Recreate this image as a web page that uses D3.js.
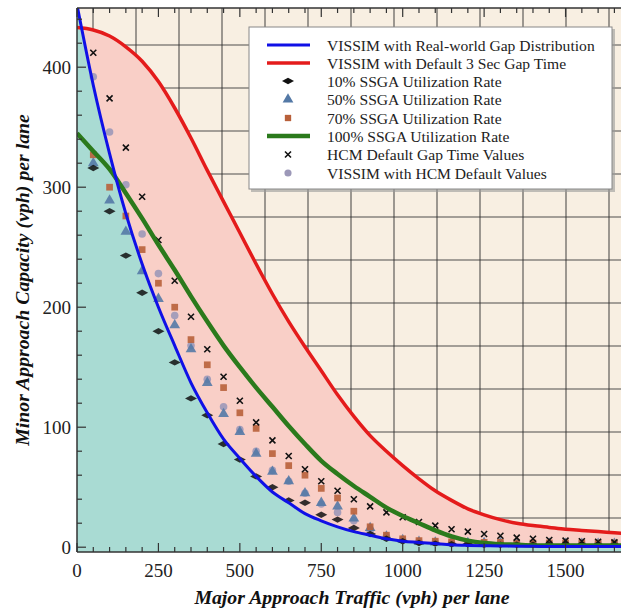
<!DOCTYPE html>
<html>
<head>
<meta charset="utf-8">
<script src="https://cdn.jsdelivr.net/npm/d3@7"></script>
<style>
  body { margin: 0; background: #ffffff; }
  svg { display: block; }
</style>
</head>
<body>
<svg id="chart" width="621" height="611"></svg>
<script>
// Capacity chart: minor approach capacity against major approach traffic.
// curves are sampled every 50 vph, markers are the simulation points

// x values of the curves (vph)
const curveX = [0, 50, 100, 150, 200, 250, 300, 350, 400, 450, 500, 550, 600, 650, 700, 750, 800, 850,
    900, 950, 1000, 1050, 1100, 1150, 1200, 1250, 1300, 1350, 1400, 1450, 1500, 1550, 1600, 1650, 1700];

// VISSIM with Real-world Gap Distribution
const realWorld = [452, 385, 328, 278, 236, 200, 168, 137, 112, 90, 74, 59, 46, 37, 28, 22, 17, 13,
    10, 7, 5, 4, 3, 2, 1.5, 1.2, 1, 0.8, 0.7, 0.6, 0.5, 0.5, 0.5, 0.5, 0.5];

// VISSIM with Default 3 Sec Gap Time
const default3s = [433, 431, 426, 417, 405, 388, 366, 341, 314, 288, 262, 236, 211, 188, 167, 147, 127, 109,
    93, 80, 68, 57, 47, 39, 32, 27, 23, 20, 18, 16.5, 15, 14, 13, 12, 11];

// 100% SSGA Utilization Rate
const ssga100 = [345, 330, 315, 295, 274, 252, 231, 209, 188, 168, 150, 133, 117, 101, 86, 72, 61, 51,
    42, 33, 26, 20, 14, 9, 5.5, 3.5, 2.5, 2, 1.5, 1.5, 1.5, 1.5, 1.5, 1.5, 1.5];

// x values of the markers (vph)
const markerX = [50, 100, 150, 200, 250, 300, 350, 400, 450, 500, 550, 600, 650, 700, 750, 800, 850,
    900, 950, 1000, 1050, 1100, 1150, 1200, 1250, 1300, 1350, 1400, 1450, 1500, 1550, 1600, 1650];

const ssga10 = [316, 280, 243, 212, 180, 154, 124, 110, 86, 73, 59, 50, 39, 37, 27, 23, 16,
    11, 7, 5, 3.5, 3, 2.5, 2.5, 2, 2, 2, 2, 2, 2, 2, 2, 2];
const ssga50 = [320, 289, 263, 230, 207, 185, 165, 137, 111, 96, 78, 63, 55, 45, 37, 34, 24,
    16, 9, 6, 4.5, 4, 4, 3.5, 3.5, 3.5, 3, 3, 3, 3, 3, 3, 3];
const ssga70 = [327, 300, 276, 248, 220, 200, 173, 152, 133, 112, 99, 78, 68, 60, 49, 41, 30,
    17, 10, 7, 5.5, 5, 4.5, 4, 4, 4, 3.5, 3.5, 3.5, 3.5, 3.5, 3.5, 3.5];
const hcmGap = [412, 374, 333, 292, 256, 222, 192, 165, 142, 122, 104, 89, 76, 65, 55, 47, 40,
    34, 29, 25, 21, 18, 15, 13, 11, 9.5, 8, 7, 6, 5.5, 5, 4.5, 4];
const vissimHcm = [392, 346, 302, 261, 228, 193, 168, 140, 117, 98, 80, 64, 55, 45, 36, 29, 22,
    14, 9, 6, 4.5, 4, 3.5, 3.5, 3, 3, 3, 3, 3, 3, 3, 3, 3];

// tick labels
const xTickLabels = [0, 250, 500, 750, 1000, 1250, 1500];
const yTickLabels = [0, 100, 200, 300, 400];

const legendLabels = [
    "VISSIM with Real-world Gap Distribution",
    "VISSIM with Default 3 Sec Gap Time",
    "10% SSGA Utilization Rate",
    "50% SSGA Utilization Rate",
    "70% SSGA Utilization Rate",
    "100% SSGA Utilization Rate",
    "HCM Default Gap Time Values",
    "VISSIM with HCM Default Values"
];

const FONT = "'Liberation Serif', 'Times New Roman', serif";

let svg = d3.select("#chart");

// plot box
let pLeft = 77, pRight = 621, pTop = 8, pBottom = 552;

let x = d3.scaleLinear().domain([0, 1700]).range([pLeft, pLeft + 1700 * 0.3257]);
let y = d3.scaleLinear().domain([-4, 450]).range([pBottom, 7.2]);

svg.append("defs").append("clipPath").attr("id", "plotClip")
    .append("rect").attr("x", pLeft).attr("y", pTop)
    .attr("width", pRight - pLeft).attr("height", pBottom - pTop);

// cream paper background with its own grid (not tied to the axis ticks)
svg.append("rect").attr("x", pLeft).attr("y", pTop)
    .attr("width", pRight - pLeft).attr("height", pBottom - pTop)
    .attr("fill", "#f8efe2");

let grid = svg.append("g").attr("clip-path", "url(#plotClip)");
for (let gx = 93; gx < pRight; gx += 43) {
    grid.append("line").attr("x1", gx).attr("x2", gx).attr("y1", pTop).attr("y2", pBottom)
        .attr("stroke", "#333").attr("stroke-width", 1.1).attr("opacity", 0.85);
}
for (let gy = 45; gy < pBottom; gy += 43) {
    grid.append("line").attr("x1", pLeft).attr("x2", pRight).attr("y1", gy).attr("y2", gy)
        .attr("stroke", "#333").attr("stroke-width", 1.1).attr("opacity", 0.85);
}

let plot = svg.append("g").attr("clip-path", "url(#plotClip)");

function curveData(vals) {
    return curveX.map((d, i) => [d, vals[i]]);
}

let area = d3.area()
    .x(d => x(d[0]))
    .y0(y(-4))
    .y1(d => y(d[1]))
    .curve(d3.curveMonotoneX);

let line = d3.line()
    .x(d => x(d[0]))
    .y(d => y(d[1]))
    .curve(d3.curveMonotoneX);

// pink band under the red curve, teal under the blue one drawn on top
plot.append("path").attr("d", area(curveData(default3s))).attr("fill", "#f9cfc7");
plot.append("path").attr("d", area(curveData(realWorld))).attr("fill", "#a9dbd3");

// markers
function markerData(vals) {
    return markerX.map((d, i) => [d, vals[i]]);
}

function drawSymbol(g, data, type, size, fill, opacity) {
    g.selectAll(null).data(data).enter().append("path")
        .attr("transform", d => "translate(" + x(d[0]) + "," + y(d[1]) + ")")
        .attr("d", d3.symbol().type(type).size(size))
        .attr("fill", fill)
        .attr("opacity", opacity);
}

// flat diamond used for the 10% series
const flatDiamond = "M-6,0 L0,-3.2 L6,0 L0,3.2 Z";

function drawDiamonds(g, data) {
    g.selectAll(null).data(data).enter().append("path")
        .attr("transform", d => "translate(" + x(d[0]) + "," + y(d[1]) + ")")
        .attr("d", flatDiamond)
        .attr("fill", "#111")
        .attr("opacity", 0.85);
}

function drawCrosses(g, data) {
    g.selectAll(null).data(data).enter().append("path")
        .attr("transform", d => "translate(" + x(d[0]) + "," + y(d[1]) + ")")
        .attr("d", "M-3,-3 L3,3 M-3,3 L3,-3")
        .attr("stroke", "#111")
        .attr("stroke-width", 1.6)
        .attr("fill", "none");
}

let marks = plot.append("g");
drawSymbol(marks, markerData(vissimHcm), d3.symbolCircle, 45, "#9c98b8", 0.9);
drawSymbol(marks, markerData(ssga50), d3.symbolTriangle, 50, "#5479a6", 0.9);
drawSymbol(marks, markerData(ssga70), d3.symbolSquare, 45, "#b8603a", 0.9);
drawDiamonds(marks, markerData(ssga10));
drawCrosses(marks, markerData(hcmGap));

// curves
plot.append("path").attr("d", line(curveData(ssga100)))
    .attr("fill", "none").attr("stroke", "#2b7a1c").attr("stroke-width", 4.5);
plot.append("path").attr("d", line(curveData(default3s)))
    .attr("fill", "none").attr("stroke", "#e41b1b").attr("stroke-width", 3.5);
plot.append("path").attr("d", line(curveData(realWorld)))
    .attr("fill", "none").attr("stroke", "#1010e6").attr("stroke-width", 3);

// axes: ticks point inward, minor every 50 vph / 20 vph
let axisColor = "#333";
let xMinor = d3.range(0, 1701, 50);
let yMinor = d3.range(0, 441, 20);

let ax = svg.append("g");
ax.append("line").attr("x1", pLeft).attr("x2", pRight).attr("y1", pBottom).attr("y2", pBottom)
    .attr("stroke", axisColor).attr("stroke-width", 1.5);
ax.append("line").attr("x1", pLeft).attr("x2", pRight).attr("y1", pTop).attr("y2", pTop)
    .attr("stroke", axisColor).attr("stroke-width", 1.5);
ax.append("line").attr("x1", pLeft).attr("x2", pLeft).attr("y1", pTop).attr("y2", pBottom)
    .attr("stroke", axisColor).attr("stroke-width", 1.5);

xMinor.forEach(v => {
    if (x(v) > pRight) return;
    let len = (v % 250 === 0) ? 9 : 5;
    ax.append("line").attr("x1", x(v)).attr("x2", x(v)).attr("y1", pBottom).attr("y2", pBottom - len)
        .attr("stroke", axisColor).attr("stroke-width", 1.2);
    ax.append("line").attr("x1", x(v)).attr("x2", x(v)).attr("y1", pTop).attr("y2", pTop + len)
        .attr("stroke", axisColor).attr("stroke-width", 1.2);
});
yMinor.forEach(v => {
    let len = (v % 100 === 0) ? 9 : 5;
    ax.append("line").attr("x1", pLeft).attr("x2", pLeft + len).attr("y1", y(v)).attr("y2", y(v))
        .attr("stroke", axisColor).attr("stroke-width", 1.2);
});

// tick labels
xTickLabels.forEach(v => {
    ax.append("text").attr("x", x(v)).attr("y", 577)
        .attr("text-anchor", "middle").attr("font-family", FONT).attr("font-size", 19)
        .attr("fill", "#222").text(v);
});
yTickLabels.forEach(v => {
    ax.append("text").attr("x", 71).attr("y", y(v) + 6.5)
        .attr("text-anchor", "end").attr("font-family", FONT).attr("font-size", 19)
        .attr("fill", "#222").text(v);
});

// axis titles
svg.append("text").attr("x", 352).attr("y", 604)
    .attr("text-anchor", "middle").attr("font-family", FONT).attr("font-size", 19.8)
    .attr("font-weight", "bold").attr("font-style", "italic").attr("fill", "#111")
    .text("Major Approach Traffic (vph) per lane");

svg.append("text").attr("transform", "translate(29,280) rotate(-90)")
    .attr("text-anchor", "middle").attr("font-family", FONT).attr("font-size", 19.8)
    .attr("font-weight", "bold").attr("font-style", "italic").attr("fill", "#111")
    .text("Minor Approach Capacity (vph) per lane");

// legend
let lg = svg.append("g");
lg.append("rect").attr("x", 251).attr("y", 29).attr("width", 364).attr("height", 163)
    .attr("fill", "#999").attr("opacity", 0.6);
lg.append("rect").attr("x", 249).attr("y", 27).attr("width", 363).attr("height", 162)
    .attr("fill", "#fff").attr("stroke", "#888").attr("stroke-width", 1);

let rowY = [45, 63, 81, 99.5, 118, 136, 154.5, 173];
let sx = 288;

legendLabels.forEach((lab, i) => {
    lg.append("text").attr("x", 327).attr("y", rowY[i] + 5.5)
        .attr("font-family", FONT).attr("font-size", 15.6).attr("fill", "#222").text(lab);
});

lg.append("line").attr("x1", 267).attr("x2", 310).attr("y1", rowY[0]).attr("y2", rowY[0])
    .attr("stroke", "#1010e6").attr("stroke-width", 3);
lg.append("line").attr("x1", 267).attr("x2", 310).attr("y1", rowY[1]).attr("y2", rowY[1])
    .attr("stroke", "#e41b1b").attr("stroke-width", 3.5);
lg.append("line").attr("x1", 267).attr("x2", 310).attr("y1", rowY[5]).attr("y2", rowY[5])
    .attr("stroke", "#2b7a1c").attr("stroke-width", 4.5);

lg.append("path").attr("transform", "translate(" + sx + "," + rowY[2] + ")")
    .attr("d", flatDiamond).attr("fill", "#111");
lg.append("path").attr("transform", "translate(" + sx + "," + rowY[3] + ")")
    .attr("d", d3.symbol().type(d3.symbolTriangle).size(50)).attr("fill", "#5479a6");
lg.append("path").attr("transform", "translate(" + sx + "," + rowY[4] + ")")
    .attr("d", d3.symbol().type(d3.symbolSquare).size(40)).attr("fill", "#b8603a");
lg.append("path").attr("transform", "translate(" + sx + "," + rowY[6] + ")")
    .attr("d", "M-3,-3 L3,3 M-3,3 L3,-3").attr("stroke", "#111").attr("stroke-width", 1.6);
lg.append("path").attr("transform", "translate(" + sx + "," + rowY[7] + ")")
    .attr("d", d3.symbol().type(d3.symbolCircle).size(40)).attr("fill", "#9c98b8");
</script>
</body>
</html>
